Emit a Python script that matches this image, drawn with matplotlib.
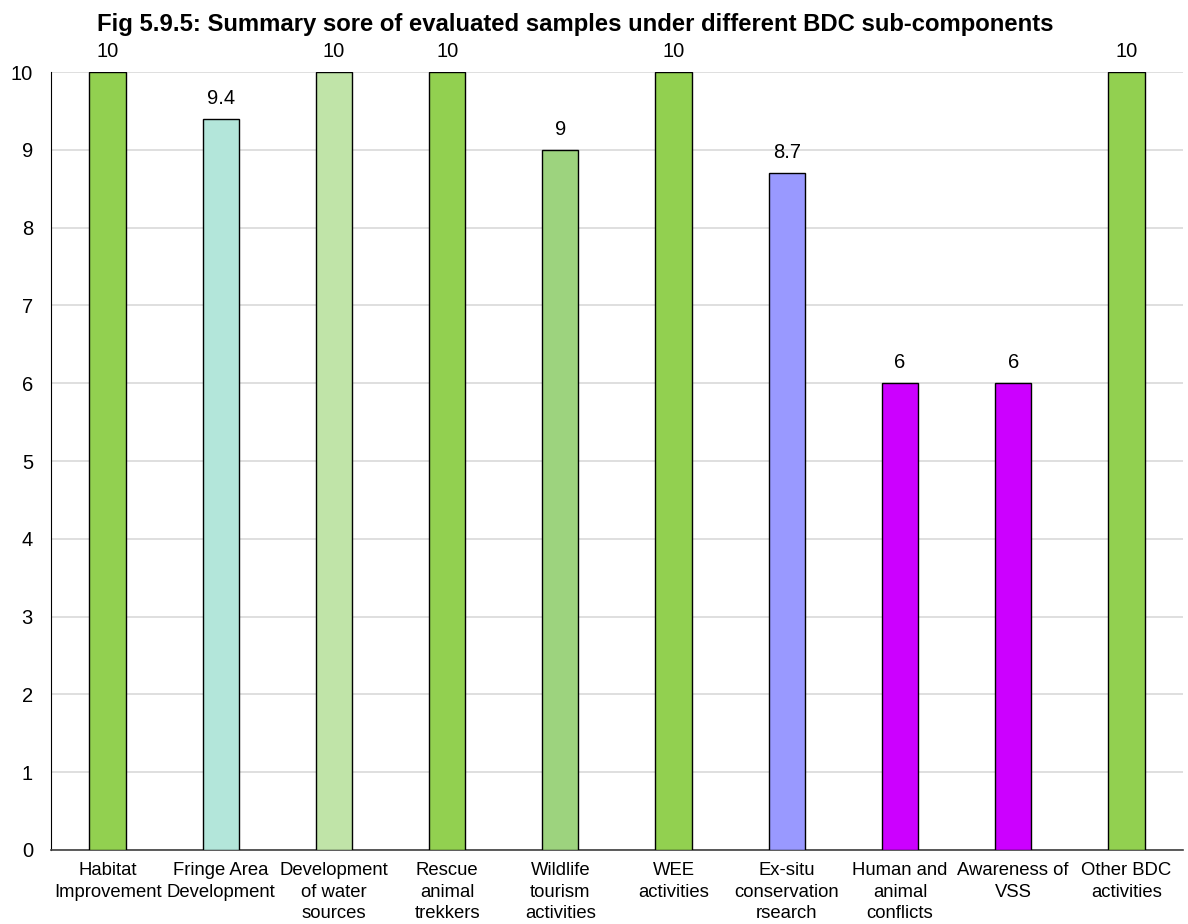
import matplotlib.pyplot as plt
import numpy as np

plt.rcParams['font.family'] = ['Liberation Sans', 'DejaVu Sans']

categories = ['Habitat\nImprovement', 'Fringe Area\nDevelopment', 'Development\nof water\nsources',
              'Rescue\nanimal\ntrekkers', 'Wildlife\ntourism\nactivities', 'WEE\nactivities',
              'Ex-situ\nconservation\nrsearch', 'Human and\nanimal\nconflicts', 'Awareness of\nVSS',
              'Other BDC\nactivities']
scores = [10, 9.4, 10, 10, 9, 10, 8.7, 6, 6, 10]
score_labels = ['10', '9.4', '10', '10', '9', '10', '8.7', '6', '6', '10']
colors = ['#92D050', '#B3E6DA', '#C0E4A8', '#92D050', '#9DD37E', '#92D050',
          '#9999FF', '#CC00FF', '#CC00FF', '#92D050']

fig = plt.figure(figsize=(11.88, 9.24), dpi=100)
ax = fig.add_axes([0.0429, 0.0801, 0.9529, 0.8419])

x = np.arange(len(categories))
bars = ax.bar(x, scores, width=0.32, color=colors, edgecolor='black', linewidth=1.0, zorder=3)

# value labels above the bars
for rect, lab in zip(bars, score_labels):
    ax.annotate(lab, (rect.get_x() + rect.get_width() / 2, rect.get_height()),
                xytext=(0, 8), textcoords='offset points', ha='center', va='bottom',
                fontsize=14.5, annotation_clip=False)

ax.set_xlim(-0.5, len(categories) - 0.5)
ax.set_ylim(0, 10)
ax.set_yticks(range(0, 11))
ax.set_xticks(x)
ax.set_xticklabels(categories, fontsize=13.3, linespacing=1.32)
ax.tick_params(axis='y', labelsize=14.5, length=0, pad=13)
ax.tick_params(axis='x', length=0, pad=9)
ax.grid(axis='y', color='#D9D9D9', linewidth=1.2, zorder=0)
for s in ['top', 'right']:
    ax.spines[s].set_visible(False)
ax.spines['left'].set_color('black')
ax.spines['bottom'].set_color('#404040')
ax.spines['bottom'].set_linewidth(1.2)

fig.text(575 / 1188, 1 - 24 / 924, 'Fig 5.9.5: Summary sore of evaluated samples under different BDC sub-components',
         ha='center', va='center', fontsize=17.2, fontweight='bold')

fig.savefig('out.png', dpi=100)
